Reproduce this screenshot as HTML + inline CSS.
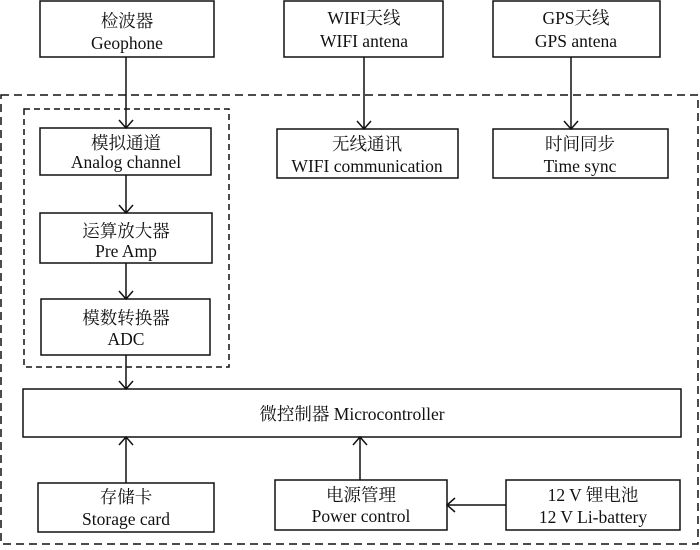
<!DOCTYPE html>
<html><head><meta charset="utf-8"><style>
body{margin:0;background:#fff}
svg text{font-family:"Liberation Serif","Noto Serif CJK SC",serif;font-size:17.5px;fill:#111;text-anchor:middle}
</style></head><body>
<svg width="700" height="545" viewBox="0 0 700 545" xmlns="http://www.w3.org/2000/svg">
<g fill="none" stroke="#111" stroke-width="1.5">
<rect x="1" y="95" width="697" height="449" stroke-dasharray="8,5"/>
<rect x="24" y="109" width="205" height="258" stroke-dasharray="6,4"/>
<rect x="40" y="1" width="174" height="56"/>
<rect x="284" y="1" width="159" height="56"/>
<rect x="493" y="1" width="167" height="56"/>
<rect x="40" y="128" width="171" height="47"/>
<rect x="40" y="213" width="172" height="50"/>
<rect x="41" y="299" width="169" height="56"/>
<rect x="277" y="129" width="181" height="49"/>
<rect x="493" y="129" width="175" height="49"/>
<rect x="23" y="389" width="658" height="48"/>
<rect x="38" y="483" width="176" height="49"/>
<rect x="275" y="480" width="172" height="50"/>
<rect x="506" y="480" width="174" height="50"/>
<path d="M126 57V128M119 120L126 128L133 120"/>
<path d="M126 175V213M119 205L126 213L133 205"/>
<path d="M126 263V299M119 291L126 299L133 291"/>
<path d="M126 355V389M119 381L126 389L133 381"/>
<path d="M364 57V129M357 121L364 129L371 121"/>
<path d="M571 57V129M564 121L571 129L578 121"/>
<path d="M126 483V437M119 445L126 437L133 445"/>
<path d="M360 480V437M353 445L360 437L367 445"/>
<path d="M506 505H447M455 498L447 505L455 512"/>
</g>
<text x="127" y="27">检波器</text><text x="127" y="49">Geophone</text>
<text x="364" y="24">WIFI天线</text><text x="364" y="47">WIFI antena</text>
<text x="576" y="24">GPS天线</text><text x="576" y="47">GPS antena</text>
<text x="126" y="149">模拟通道</text><text x="126" y="168">Analog channel</text>
<text x="126" y="237">运算放大器</text><text x="126" y="257">Pre Amp</text>
<text x="126" y="324">模数转换器</text><text x="126" y="345">ADC</text>
<text x="367" y="150">无线通讯</text><text x="367" y="172">WIFI communication</text>
<text x="580" y="150">时间同步</text><text x="580" y="172">Time sync</text>
<text x="352" y="420">微控制器  Microcontroller</text>
<text x="126" y="503">存储卡</text><text x="126" y="525">Storage card</text>
<text x="361" y="501">电源管理</text><text x="361" y="522">Power control</text>
<text x="593" y="501">12 V 锂电池</text><text x="593" y="523">12 V Li-battery</text>
</svg>
</body></html>
